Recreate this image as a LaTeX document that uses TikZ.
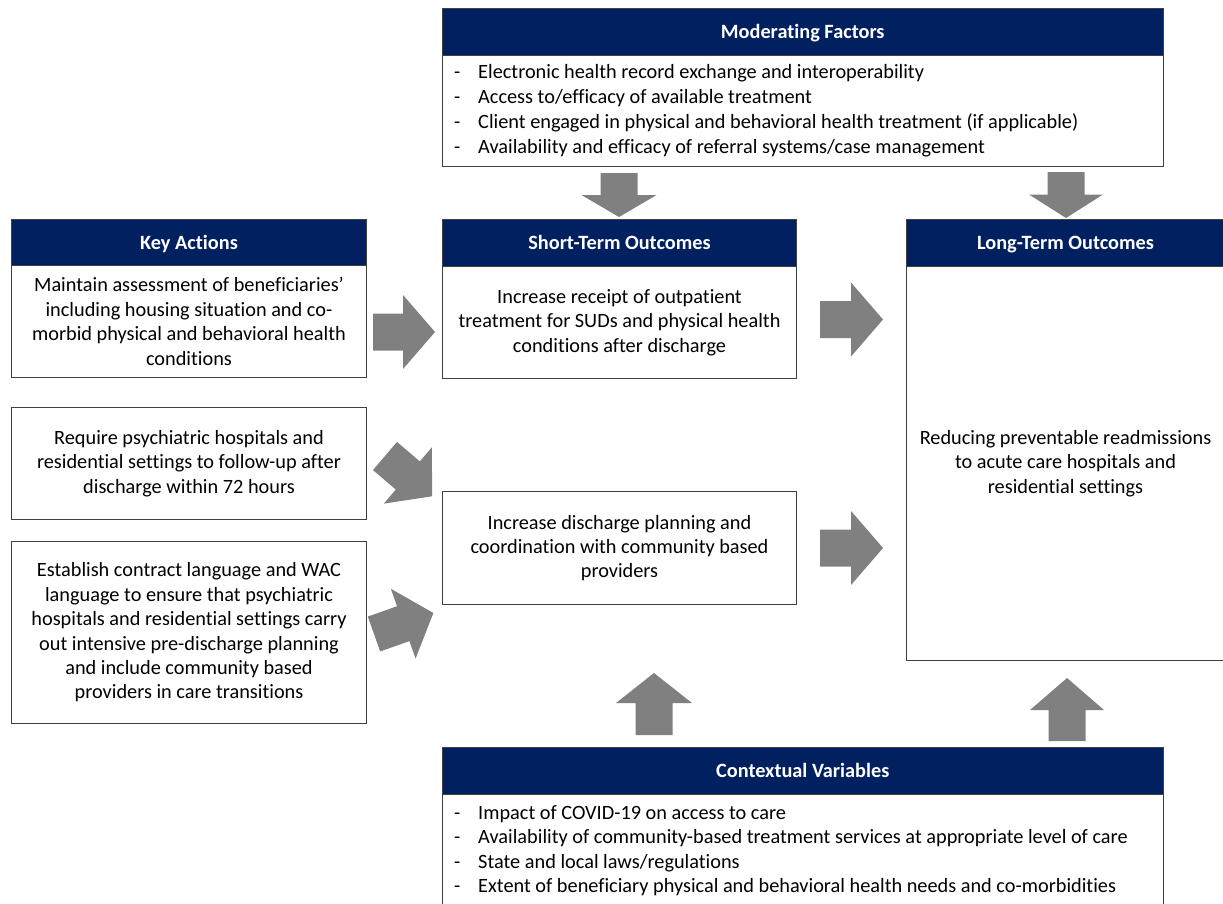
\documentclass[tikz,border=0pt]{standalone}
\usepackage{fontspec}
\setmainfont[Ligatures=NoCommon]{Carlito}
\definecolor{navy}{HTML}{002060}
\definecolor{arrowgray}{HTML}{808080}
\definecolor{edgecol}{HTML}{404040}
\newcommand\blockarr[6]{%
  \fill[arrowgray, shift={(#1,#2)}, rotate=#3] (0,-18.5) -- (#4-#5,-18.5) -- (#4-#5,-#6) -- (#4,0) -- (#4-#5,#6) -- (#4-#5,18.5) -- (0,18.5) -- cycle;}
\begin{document}
\begin{tikzpicture}[x=1pt,y=-1pt,
  boxline/.style={draw=edgecol,line width=1pt,fill=white,inner sep=0pt,anchor=north west},
  hdr/.style={boxline,fill=navy,text=white,font=\fontsize{20.3}{24.4}\selectfont\bfseries,text height=13pt,text depth=0pt},
  bodytext/.style={font=\fontsize{20.3}{24.4}\selectfont,align=center,inner sep=0pt,text=black},
  listtext/.style={font=\fontsize{20.3}{24.4}\selectfont,anchor=base west,inner sep=0pt,text=black}]
\useasboundingbox (0,0) rectangle (1223,903);
\clip (0,0) rectangle (1223,903);
\fill[white] (0,0) rectangle (1223,903);

% Moderating factors
\node[hdr, minimum width=720.5pt, minimum height=47pt] (mfh) at (442,8) {Moderating Factors};
\node[boxline, minimum width=720.5pt, minimum height=111pt] (mfb) at (442,55) {};
\foreach \y/\t [count=\i] in {78.5/{Electronic health record exchange and interoperability},
  103.5/{Access to/efficacy of available treatment},
  128.5/{Client engaged in physical and behavioral health treatment (if applicable)},
  153.5/{Availability and efficacy of referral systems/case management}}{
  \node[listtext] (mfd\i) at (454,\y) {-};
  \node[listtext] (mf\i) at (478,\y) {\t};
}

% Key actions
\node[hdr, minimum width=355pt, minimum height=46pt] (kah) at (11,219) {Key Actions};
\node[boxline, minimum width=355pt, minimum height=112pt] (kab) at (11,265) {};
\node[bodytext] (kat) at (kab.center) {Maintain assessment of beneficiaries’\\including housing situation and co-\\morbid physical and behavioral health\\conditions};
\node[boxline, minimum width=355pt, minimum height=112pt] (ka2) at (11,407) {};
\node[bodytext] (ka2t) at (ka2.center) {Require psychiatric hospitals and\\residential settings to follow-up after\\discharge within 72 hours};
\node[boxline, minimum width=355pt, minimum height=182pt] (ka3) at (11,541) {};
\node[bodytext] (ka3t) at (ka3.center) {Establish contract language and WAC\\language to ensure that psychiatric\\hospitals and residential settings carry\\out intensive pre-discharge planning\\and include community based\\providers in care transitions};

% Short-term outcomes
\node[hdr, minimum width=354pt, minimum height=47pt] (sth) at (442,219) {Short-Term Outcomes};
\node[boxline, minimum width=354pt, minimum height=112pt] (stb) at (442,266) {};
\node[bodytext] (stt) at (stb.center) {Increase receipt of outpatient\\treatment for SUDs and physical health\\conditions after discharge};
\node[boxline, minimum width=354pt, minimum height=113pt] (st2) at (442,491) {};
\node[bodytext] (st2t) at (st2.center) {Increase discharge planning and\\coordination with community based\\providers};

% Long-term outcomes
\node[hdr, minimum width=318pt, minimum height=47pt] (lth) at (906,219) {Long-Term Outcomes};
\node[boxline, minimum width=318pt, minimum height=394pt] (ltb) at (906,266) {};
\node[bodytext] (ltt) at (ltb.center) {Reducing preventable readmissions\\to acute care hospitals and\\residential settings};

% Contextual variables
\node[hdr, minimum width=720.5pt, minimum height=47pt] (cvh) at (442,747) {Contextual Variables};
\node[boxline, minimum width=720.5pt, minimum height=120pt] (cvb) at (442,794) {};
\foreach \y/\t [count=\i] in {819/{Impact of COVID-19 on access to care},
  843.5/{Availability of community-based treatment services at appropriate level of care},
  868/{State and local laws/regulations},
  892.5/{Extent of beneficiary physical and behavioral health needs and co-morbidities}}{
  \node[listtext] (cvd\i) at (454,\y) {-};
  \node[listtext] (cv\i) at (478,\y) {\t};
}

% Block arrows
\blockarr{619}{173}{-90}{44}{22}{37.5}
\blockarr{1066}{172}{-90}{46}{23.5}{37}
\blockarr{373}{332}{0}{62}{32}{37}
\blockarr{385}{456}{-40.5}{62}{32}{37}
\blockarr{374}{634}{19.5}{63}{32}{37}
\blockarr{820}{319.5}{0}{63}{32}{37}
\blockarr{820}{548}{0}{63}{32}{37}
\blockarr{654}{735}{90}{62}{30}{38}
\blockarr{1067}{741}{90}{63}{32}{37}
\end{tikzpicture}
\end{document}
